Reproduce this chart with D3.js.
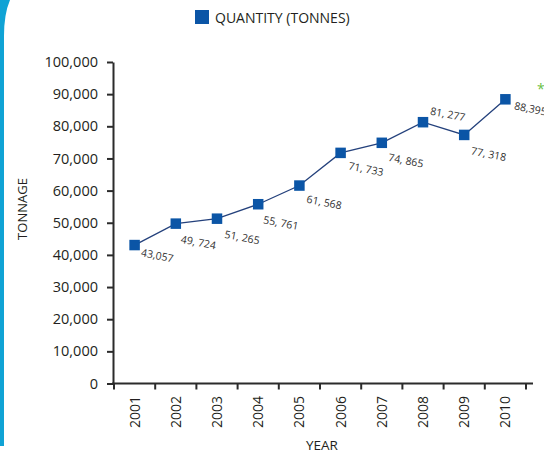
<!DOCTYPE html>
<html>
<head>
<meta charset="utf-8">
<script src="https://cdn.jsdelivr.net/npm/d3@7"></script>
<style>
  html, body { margin: 0; padding: 0; background: #ffffff; }
  svg { display: block; }
  text { font-family: "Open Sans", "Noto Sans", sans-serif; }
</style>
</head>
<body>
<svg id="chart" width="544" height="462"></svg>
<script>
// Annual quantity, 2001–2010
const years = ["2001", "2002", "2003", "2004", "2005", "2006", "2007", "2008", "2009", "2010"];
const quantities = [43057, 49724, 51265, 55761, 61568, 71733, 74865, 81277, 77318, 88395];
const valueLabels = ["43,057", "49, 724", "51, 265", "55, 761", "61, 568", "71, 733", "74, 865", "81, 277", "77, 318", "88,395"];
const yTicks = [0, 10000, 20000, 30000, 40000, 50000, 60000, 70000, 80000, 90000, 100000];
const seriesName = "QUANTITY (TONNES)";
const yTitle = "TONNAGE";
const xTitle = "YEAR";

// label offsets from each marker (baseline start point)
const labelOffsets = [[6, 11], [4.5, 19], [7, 19], [4.6, 19], [6.7, 17], [7.3, 16.4], [6, 18], [6.7, -7.7], [6.4, 19.4], [8.3, 10]];

const svg = d3.select("#chart");
const axisColor = "#2b2b2b";
const markerColor = "#0b55a6";
const lineColor = "#24417c";
const textColor = "#231f20";

// decorative band on the left edge
svg.append("path")
  .attr("d", "M0,0 L10,0 Q4,14 4,36 L4,446 L0,446 Z")
  .attr("fill", "#10a3d5");

const x = d3.scaleBand().domain(years).range([114, 526]).padding(0);
const y = d3.scaleLinear().domain([0, 100000]).range([383.5, 62]);

// y axis
const yAxis = svg.append("g")
  .attr("transform", "translate(113,0)")
  .call(d3.axisLeft(y).tickValues(yTicks).tickSize(6).tickSizeOuter(0).tickPadding(9).tickFormat(d3.format(",")));
yAxis.select(".domain").attr("stroke", axisColor).attr("stroke-width", 2);
yAxis.selectAll(".tick line").attr("stroke", axisColor).attr("stroke-width", 2);
yAxis.selectAll(".tick text")
  .attr("fill", textColor)
  .style("font-size", "14.5px");

// x axis: baseline, band-edge ticks and rotated year labels
const xAxis = svg.append("g").attr("transform", `translate(0,${y(0)})`);
xAxis.append("line")
  .attr("x1", 112).attr("x2", x.range()[1] + 7)
  .attr("y1", 0).attr("y2", 0)
  .attr("stroke", axisColor).attr("stroke-width", 2);
const edges = years.map(d => x(d)).concat([x.range()[1]]);
xAxis.selectAll("line.edge")
  .data(edges)
  .join("line")
  .attr("class", "edge")
  .attr("x1", d => d).attr("x2", d => d)
  .attr("y1", 0).attr("y2", 6)
  .attr("stroke", axisColor).attr("stroke-width", 2);
svg.append("g")
  .selectAll("text")
  .data(years)
  .join("text")
  .attr("transform", d => `translate(${x(d) + x.bandwidth() / 2 + 5},396) rotate(-90)`)
  .attr("text-anchor", "end")
  .attr("fill", textColor)
  .style("font-size", "14px")
  .text(d => d);

// axis titles
svg.append("text")
  .attr("transform", "translate(27,209) rotate(-90)")
  .attr("text-anchor", "middle")
  .attr("fill", textColor)
  .style("font-size", "13px")
  .text(yTitle);
svg.append("text")
  .attr("x", 322).attr("y", 450)
  .attr("text-anchor", "middle")
  .attr("fill", textColor)
  .style("font-size", "13.5px")
  .text(xTitle);

// legend
svg.append("rect")
  .attr("x", 195).attr("y", 10)
  .attr("width", 14).attr("height", 14)
  .attr("fill", markerColor);
svg.append("text")
  .attr("x", 215).attr("y", 22.5)
  .attr("fill", textColor)
  .style("font-size", "14px")
  .text(seriesName);

// series line
const pts = years.map((d, i) => ({ year: d, value: quantities[i], label: valueLabels[i], off: labelOffsets[i] }));
const cx = d => x(d.year) + x.bandwidth() / 2;
svg.append("path")
  .datum(pts)
  .attr("fill", "none")
  .attr("stroke", lineColor)
  .attr("stroke-width", 1.3)
  .attr("d", d3.line().x(cx).y(d => y(d.value)));

// square markers
const ms = 10.5;
svg.append("g")
  .selectAll("rect")
  .data(pts)
  .join("rect")
  .attr("x", d => cx(d) - ms / 2)
  .attr("y", d => y(d.value) - ms / 2)
  .attr("width", ms).attr("height", ms)
  .attr("fill", markerColor);

// value labels
svg.append("g")
  .selectAll("text")
  .data(pts)
  .join("text")
  .attr("transform", d => `translate(${cx(d) + d.off[0]},${y(d.value) + d.off[1]}) rotate(11)`)
  .attr("fill", "#333333")
  .style("font-size", "10.5px")
  .text(d => d.label);

// small green mark at the right edge
svg.append("text")
  .attr("x", 537).attr("y", 94)
  .attr("fill", "#6abf45")
  .style("font-size", "14px")
  .text("*");
</script>
</body>
</html>
